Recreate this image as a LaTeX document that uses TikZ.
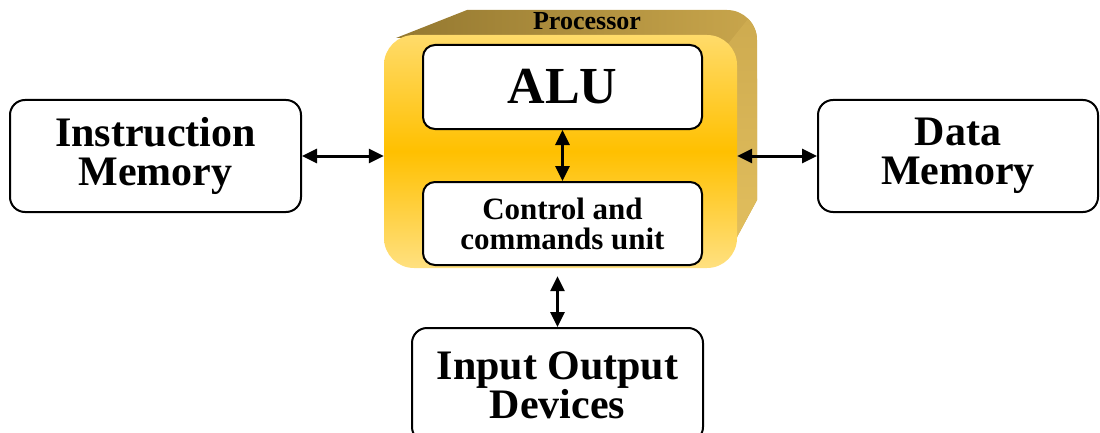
\documentclass[tikz,border=0pt]{standalone}
\usepackage{fontspec}
\setmainfont{Liberation Serif}
\usetikzlibrary{arrows.meta}
\definecolor{procfront}{HTML}{FFC000}
\definecolor{proclight}{HTML}{FFDB6A}
\definecolor{proctopl}{HTML}{947830}
\definecolor{proctopr}{HTML}{C9A64C}
\definecolor{procside}{HTML}{E2BF5E}

\begin{document}
\begin{tikzpicture}[x=1pt,y=1pt,
		box/.style={draw,rectangle,rounded corners=15pt,line width=2pt,fill=white,align=center,font=\bfseries\fontsize{42}{39}\selectfont},
		unit/.style={draw,rectangle,rounded corners=12pt,line width=2pt,fill=white,align=center,minimum width=279pt},
		link/.style={{Triangle[length=15pt,width=14pt]}-{Triangle[length=15pt,width=14pt]},line width=3pt}]
			\useasboundingbox (0,0) rectangle (1100,432);
			\shade[left color=proctopl,right color=proctopr] (396,394) -- (467,422) -- (727,422) arc[start angle=90,end angle=0,radius=30] -- (757,232) -- (730,182) -- (700,182) -- (700,394) -- cycle;
			\shade[top color=proctopr!80!procside,bottom color=procside] (728,388) -- (748.2,413.2) arc[start angle=45,end angle=0,radius=30] -- (757,232) -- (730,182) -- (710,300) -- cycle;
			\node[rectangle,rounded corners=30pt,top color=proclight,bottom color=proclight!85!white,middle color=procfront,minimum width=353pt,minimum height=233pt] (proc) at (560.5,280.5) {};
			\node[anchor=base,font=\bfseries\fontsize{26}{26}\selectfont] (proclabel) at (587,402) {Processor};
			\node[unit,minimum height=84pt,font=\bfseries\fontsize{52}{52}\selectfont] (alu) at (562.5,345) {ALU};
			\node[unit,minimum height=83pt,font=\bfseries\fontsize{31}{30}\selectfont] (ctrl) at (562.5,208.5) {Control and\\commands unit};
			\node[box,minimum width=291pt,minimum height=112pt] (imem) at (155.5,276) {Instruction\\Memory};
			\node[box,minimum width=280pt,minimum height=112pt] (dmem) at (958,276) {Data\\Memory};
			\node[box,minimum width=291pt,minimum height=114pt] (iodev) at (557.5,47) {Input Output\\Devices};
			\draw[link] (imem.east) -- (imem.east -| proc.west);
			\draw[link] (proc.east |- dmem.west) -- (dmem.west);
			\draw[link] (alu.south) -- (ctrl.north);
			\draw[link] ([yshift=-8pt]proc.south -| iodev.north) -- (iodev.north);
		\end{tikzpicture}
\end{document}
